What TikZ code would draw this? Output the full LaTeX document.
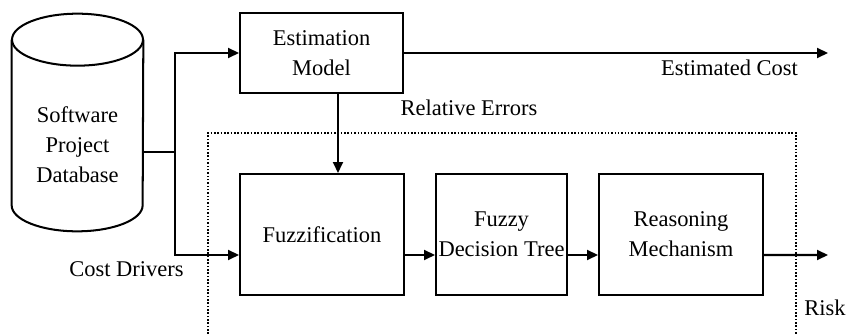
\documentclass[tikz,border=0pt]{standalone}
\usepackage{fontspec}
\setmainfont{Liberation Serif}
\usetikzlibrary{arrows.meta,positioning,calc}
\tikzset{
  block/.style={draw, line width=1.15pt, minimum height=24.2mm, minimum width=32.8mm,
    font=\fontsize{12.8}{17}\selectfont, align=center, inner sep=0pt},
  flow/.style={-{Triangle[length=2.2mm, width=2mm]}, line width=1.15pt},
  lab/.style={font=\fontsize{12.8}{17}\selectfont, align=center, inner sep=0pt},
  region/.style={densely dotted, line width=0.9pt},
}

\begin{document}
\begin{tikzpicture}[x=0.02cm, y=-0.02cm]
\useasboundingbox (0,0) rectangle (849,334);

% The data store on the left, drawn as an upright cylinder round an empty node.
\node[minimum width=26.2mm, minimum height=43.4mm, inner sep=0pt] (db) at (77.5,122.5) {};
\draw[line width=1.15pt] ([yshift=-5.2mm]db.north west) -- ([yshift=5.2mm]db.south west)
  arc[start angle=180, end angle=360, x radius=13.1mm, y radius=5.2mm]
  -- ([yshift=-5.2mm]db.north east);
\draw[line width=1.15pt] ([yshift=-5.2mm]db.north) ellipse[x radius=13.1mm, y radius=5.2mm];
\node[lab] (dblabel) at (77.5,145) {Software\\Project\\Database};

% Estimation model on top, the fuzzy risk chain below it.
\node[block, minimum height=16mm, minimum width=32.6mm] (est) at (321.5,53) {Estimation\\Model};
\node[block] (fuzz) at (322,234.5) {Fuzzification};
\node[block, minimum width=26.2mm] (fdt) at (501.5,234.5) {Fuzzy\\Decision Tree};
\node[block] (rm) at (681,234.5) {Reasoning\\Mechanism};

\coordinate (split) at (175,152);
\coordinate (costout) at (828,53);
\coordinate (riskout) at (828,255);
\coordinate (errtap) at ([xshift=3.3mm]est.south);

\draw[line width=1.15pt] (db.east |- split) -- (split);
\draw[flow] (split) |- (est.west);
\draw[flow] (split) |- ([yshift=-4.1mm]fuzz.west);
\draw[flow] (est.east) -- (costout);
\draw[flow] (errtap) -- (errtap |- fuzz.north);
\draw[flow] ([yshift=-4.1mm]fuzz.east) -- ([yshift=-4.1mm]fdt.west);
\draw[flow] ([yshift=-4.1mm]fdt.east) -- ([yshift=-4.1mm]rm.west);
\draw[flow] ([yshift=-4.1mm]rm.east) -- (riskout);

% Dotted frame round the risk part, open at the bottom.
\draw[region] (208,334) |- (796,133) -- (796,334);

\node[lab] (costlab) at (729.5,68) {Estimated Cost};
\node[lab] (errlab) at (469,108) {Relative Errors};
\node[lab] (drvlab) at (126.5,269) {Cost Drivers};
\node[lab] (risklab) at (825,308) {Risk};

\end{tikzpicture}
\end{document}
